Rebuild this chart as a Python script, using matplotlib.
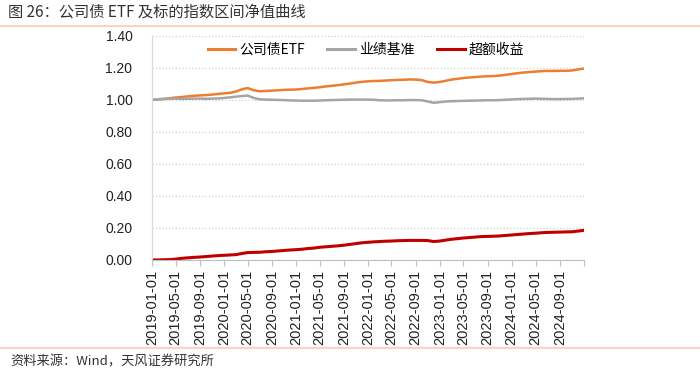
import matplotlib
matplotlib.use("Agg")
import matplotlib.pyplot as plt
import matplotlib.dates as mdates
import pandas as pd
from matplotlib.lines import Line2D

plt.rcParams['font.family'] = ['Liberation Sans', 'Noto Sans CJK SC', 'DejaVu Sans']

# 月度净值（2019-01 至 2024-12 末）
dates = pd.date_range('2019-01-01', '2025-01-01', freq='MS')

etf = [1.000, 1.003, 1.006, 1.010, 1.015, 1.018, 1.022, 1.026, 1.028, 1.030, 1.033, 1.037,
       1.041, 1.044, 1.052, 1.066, 1.074, 1.060, 1.054, 1.056, 1.058, 1.060, 1.063, 1.064,
       1.065, 1.068, 1.072, 1.075, 1.079, 1.084, 1.088, 1.092, 1.097, 1.102, 1.108, 1.113,
       1.116, 1.118, 1.119, 1.121, 1.123, 1.125, 1.126, 1.128, 1.127, 1.124, 1.112, 1.108,
       1.112, 1.120, 1.127, 1.132, 1.137, 1.140, 1.143, 1.146, 1.148, 1.149, 1.152, 1.157,
       1.162, 1.167, 1.171, 1.174, 1.177, 1.180, 1.181, 1.181, 1.182, 1.182, 1.184, 1.190, 1.196]

bench = [1.000, 1.004, 1.006, 1.007, 1.008, 1.006, 1.007, 1.008, 1.008, 1.007, 1.008, 1.009,
         1.012, 1.016, 1.020, 1.024, 1.027, 1.012, 1.004, 1.002, 1.001, 1.000, 0.999, 0.997,
         0.996, 0.995, 0.995, 0.995, 0.996, 0.998, 0.999, 1.000, 1.001, 1.002, 1.002, 1.002,
         1.002, 1.001, 0.998, 0.997, 0.997, 0.998, 0.998, 0.999, 0.999, 0.998, 0.990, 0.982,
         0.986, 0.990, 0.992, 0.993, 0.994, 0.995, 0.996, 0.997, 0.998, 0.998, 0.999, 1.001,
         1.003, 1.005, 1.006, 1.007, 1.008, 1.007, 1.006, 1.005, 1.005, 1.006, 1.006, 1.008, 1.010]

excess = [0.000, 0.000, 0.001, 0.002, 0.005, 0.010, 0.013, 0.016, 0.018, 0.021, 0.024, 0.027,
          0.029, 0.031, 0.033, 0.040, 0.046, 0.047, 0.048, 0.051, 0.053, 0.056, 0.059, 0.062,
          0.064, 0.067, 0.071, 0.074, 0.079, 0.082, 0.085, 0.088, 0.092, 0.097, 0.102, 0.107,
          0.110, 0.113, 0.115, 0.117, 0.118, 0.120, 0.121, 0.122, 0.122, 0.122, 0.121, 0.115,
          0.118, 0.124, 0.129, 0.133, 0.137, 0.140, 0.143, 0.146, 0.147, 0.148, 0.150, 0.153,
          0.156, 0.159, 0.162, 0.165, 0.167, 0.170, 0.172, 0.173, 0.174, 0.175, 0.176, 0.180, 0.185]

series_names = ['公司债ETF', '业绩基准', '超额收益']
series_colors = ['#ED7D31', '#A5A5A5', '#C00000']

tick_dates = pd.date_range('2019-01-01', '2024-09-01', freq='4MS')
tick_labels = [d.strftime('%Y-%m-%d') for d in tick_dates]

fig = plt.figure(figsize=(7, 3.74), dpi=100)
ax = fig.add_axes([0.217, 0.305, 0.617, 0.599])

ax.plot(dates, etf, color=series_colors[0], lw=1.8, label=series_names[0])
ax.plot(dates, bench, color=series_colors[1], lw=1.8, label=series_names[1])
ax.plot(dates, excess, color=series_colors[2], lw=2.2, label=series_names[2])

ax.set_ylim(0, 1.4)
ax.set_yticks([0, 0.2, 0.4, 0.6, 0.8, 1.0, 1.2, 1.4])
ax.set_yticklabels(['%.2f' % v for v in ax.get_yticks()], fontsize=10, color='#222222')
ax.set_xlim(dates[0], dates[-1])

all_ticks = list(tick_dates) + [pd.Timestamp('2025-01-01')]
ax.set_xticks([mdates.date2num(d) for d in all_ticks])
ax.set_xticklabels(tick_labels + [''], rotation=90, fontsize=10.5, color='#222222')

ax.grid(axis='y', linestyle=':', color='#D0D0D0', lw=0.9)
ax.set_axisbelow(True)
for s in ['top', 'right']:
    ax.spines[s].set_visible(False)
ax.spines['left'].set_color('#D9D9D9')
ax.spines['bottom'].set_color('#BFBFBF')
ax.tick_params(axis='y', length=0, pad=14)
ax.tick_params(axis='x', length=4, color='#BFBFBF', pad=3)

handles = [Line2D([0], [0], color=c, lw=2.2) for c in series_colors]
ax.legend(handles, series_names, loc='upper left', bbox_to_anchor=(0.10, 1.025),
          ncol=3, frameon=False, handlelength=2.0, handletextpad=0.3,
          columnspacing=1.6, prop={'family': ['Noto Sans CJK SC', 'DejaVu Sans'], 'size': 10})

# 标题、分隔线和资料来源
fig.text(0.012, 0.967, '图 26：公司债 ETF 及标的指数区间净值曲线', fontsize=11, color='#333333',
         va='center', ha='left', family=['Noto Sans CJK SC', 'DejaVu Sans'])
fig.add_artist(Line2D([0, 1], [0.930, 0.930], color='#F8CBAD', lw=1.2, transform=fig.transFigure))
fig.add_artist(Line2D([0, 1], [0.070, 0.070], color='#F8CBAD', lw=1.2, transform=fig.transFigure))
fig.text(0.015, 0.032, '资料来源：Wind，天风证券研究所', fontsize=9.5, color='#333333',
         va='center', ha='left', family=['Noto Sans CJK SC', 'DejaVu Sans'])

fig.savefig('out.png', dpi=100)
